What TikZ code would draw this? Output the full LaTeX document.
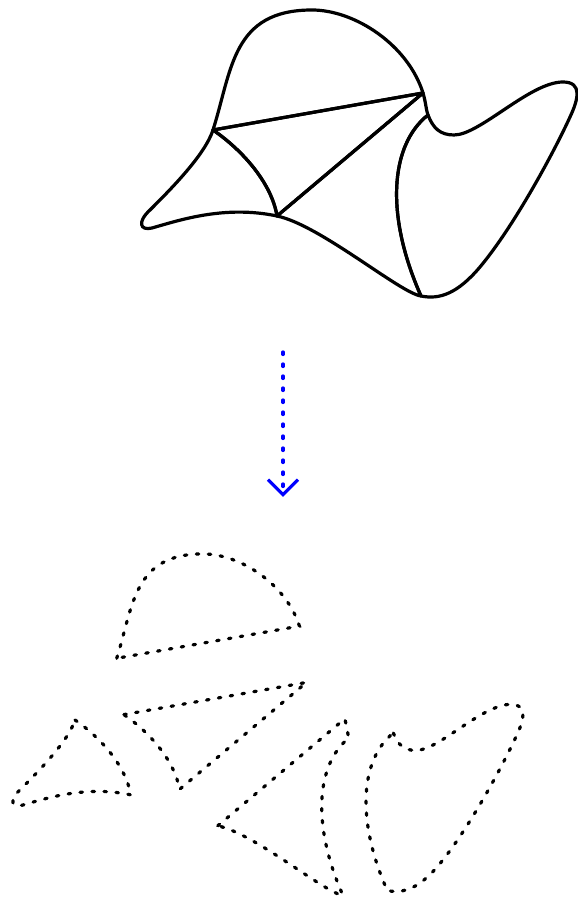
\documentclass[tikz,border=0pt]{standalone}
\usepackage{tikz}
\usetikzlibrary{arrows.meta}
\tikzset{
  solidpiece/.style={draw=black, line width=3.2pt, line join=round},
  cutpiece/.style={draw=black, line width=3.2pt, line cap=round,
    dash pattern=on 2.5pt off 9.5pt},
  cutarrow/.style={draw=blue, line width=3.2pt, line cap=round,
    dash pattern=on 2.5pt off 9.5pt, -{Straight Barb[length=15pt,width=30pt]}}
}
\newcommand{\pieceCap}{(21.3,77) .. controls (23.2,83) and (23.2,89) .. (31.2,89)
  .. controls (35.5,89) and (40.8,85.5) .. (42.3,80.7) -- cycle}
\newcommand{\pieceMid}{(21.3,77) -- (42.3,80.7) -- (27.7,68.4)
  .. controls (27.2,71.5) and (24.5,74.8) .. (21.3,77) -- cycle}
\newcommand{\pieceLeft}{(21.3,77) .. controls (24.5,74.8) and (27.2,71.5) .. (27.7,68.4)
  .. controls (22.5,69.5) and (18,68) .. (15.2,67.2)
  .. controls (14,66.9) and (13.7,67.8) .. (15,69)
  .. controls (17,71) and (20.5,74.5) .. (21.3,77) -- cycle}
\newcommand{\pieceWedge}{(27.7,68.4) -- (42.3,80.7)
  .. controls (42.6,79.7) and (42.6,79) .. (42.8,78.5)
  .. controls (39,75.5) and (38.5,68.5) .. (42.1,60.4)
  .. controls (40,60.7) and (32,67.5) .. (27.7,68.4) -- cycle}
\newcommand{\pieceRight}{(42.8,78.5) .. controls (43.3,77.2) and (44,76.5) .. (45.4,76.5)
  .. controls (48,76.5) and (53,81.8) .. (56.3,81.8)
  .. controls (58.3,81.8) and (57.8,80) .. (57,78.3)
  .. controls (55.5,75) and (51.5,67.5) .. (48,63.3)
  .. controls (45.8,60.7) and (44,60) .. (42.1,60.4)
  .. controls (38.5,68.5) and (39,75.5) .. (42.8,78.5) -- cycle}

\begin{document}
\begin{tikzpicture}[x=10pt,y=10pt]
\useasboundingbox (0,0) rectangle (57.8,90);

\draw[solidpiece] \pieceCap;
\draw[solidpiece] \pieceMid;
\draw[solidpiece] \pieceLeft;
\draw[solidpiece] \pieceWedge;
\draw[solidpiece] \pieceRight;

\coordinate (cuttop) at (28.3,54.8);
\coordinate (cutbot) at (28.3,40.3);
\draw[cutarrow] (cuttop) -- (cutbot);

\draw[cutpiece, shift={(-6.86,-42.82)}, scale=0.87] \pieceCap;
\draw[cutpiece, shift={(-6.15,-48.45)}, scale=0.87] \pieceMid;
\draw[cutpiece, shift={(-11.03,-48.99)}, scale=0.87] \pieceLeft;
\draw[cutpiece, shift={(-2.33,-52.09)}, scale=0.87] \pieceWedge;
\draw[cutpiece, shift={(2.1,-51.6)}, scale=0.87] \pieceRight;
\end{tikzpicture}
\end{document}
